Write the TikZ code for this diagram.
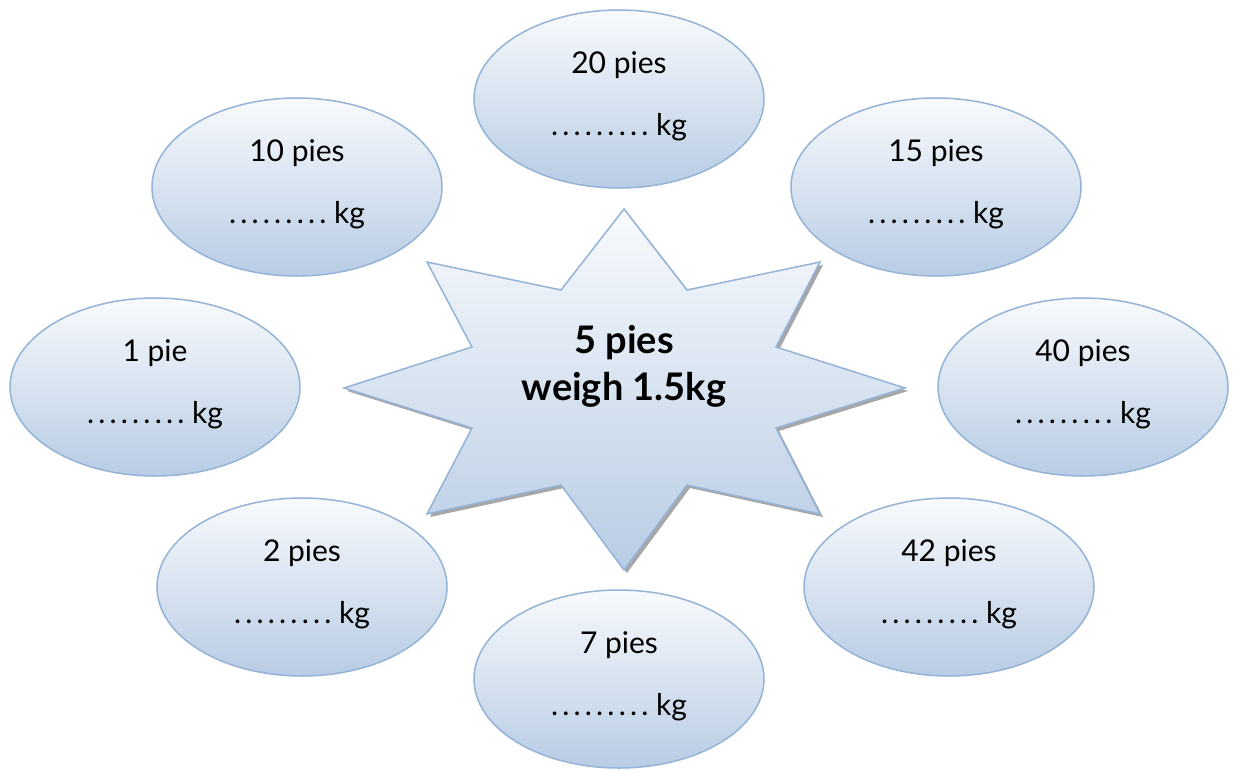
\documentclass[tikz,border=0pt]{standalone}
\usepackage{fontspec}
\setmainfont{Lato}
\usetikzlibrary{shapes.geometric}
\definecolor{bordblue}{RGB}{149,179,215}
\definecolor{filltop}{RGB}{248,250,253}
\definecolor{fillbot}{RGB}{184,204,228}
\tikzset{
  ell/.style={ellipse, draw=bordblue, line width=1.5pt, top color=filltop, bottom color=fillbot,
    minimum width=290pt, minimum height=178pt, inner sep=0pt},
  lab/.style={anchor=base, font=\fontsize{30}{34}\selectfont, inner sep=0pt},
  starlab/.style={anchor=base, font=\fontsize{38}{42}\selectfont\bfseries, inner sep=0pt}
}
\newcommand{\blanks}{.\kern4.2pt.\kern4.2pt.\kern4.2pt.\kern4.2pt.\kern4.2pt.\kern4.2pt.\kern4.2pt.\kern4.2pt.}
\newcommand{\bubble}[3]{%
  \node[ell] (#1) at (#2) {};
  \node[lab] (#1a) at ([yshift=26pt]#1.center) {#3};
  \node[lab] (#1b) at ([yshift=-36pt]#1.center) {\blanks\ kg};
}
\begin{document}
\begin{tikzpicture}[x=1pt,y=-1pt]
\useasboundingbox (0,0) rectangle (1235,769);
\fill[white] (0,0) rectangle (1235,769);
% star
\coordinate (sc) at (624,388);
\def\starpath{(0,-179) -- (63,-98) -- (196,-126) -- (152,-41) -- (281,0) -- (152,40) -- (196,126) -- (63,97) -- (0,182) -- (-63,97) -- (-197,126) -- (-152,40) -- (-280,0) -- (-152,-41) -- (-197,-126) -- (-63,-98) -- cycle}
\begin{scope}[shift={(627,391)}]
\fill[gray!70] \starpath;
\end{scope}
\begin{scope}[shift={(sc)}]
\draw[bordblue, line width=1.5pt, top color=filltop, bottom color=fillbot, line join=miter] \starpath;
\end{scope}
\node[starlab] (st1) at ([yshift=35pt]sc) {5 pies};
\node[starlab] (st2) at ([yshift=-12pt]sc) {weigh 1.5kg};
% bubbles
\bubble{e20}{619,99}{20 pies}
\bubble{e10}{297,187}{10 pies}
\bubble{e15}{936,187}{15 pies}
\bubble{e1}{155,387}{1 pie}
\bubble{e40}{1083,387}{40 pies}
\bubble{e2}{302,587}{2 pies}
\bubble{e42}{949,587}{42 pies}
\bubble{e7}{619,679}{7 pies}
\end{tikzpicture}
\end{document}
